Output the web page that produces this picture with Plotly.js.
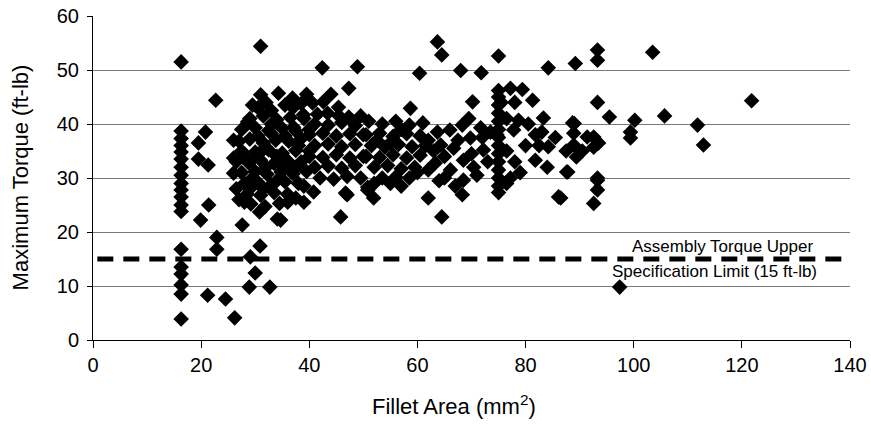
<!DOCTYPE html>
<html>
<head>
<meta charset="utf-8">
<script src="https://cdn.plot.ly/plotly-3.0.1.min.js"></script>
<style>html,body{margin:0;padding:0;background:#fff;}#chart{width:871px;height:442px;}</style>
</head>
<body>
<div id="chart"></div>
<script>
// [fillet area (mm^2), maximum torque (ft-lb)], grouped by region
const column16 = [[16.3,51.5],[16.3,38.7],[16.3,37.3],[16.3,36],[16.3,34.8],[16.3,33.5],[16.3,32],[16.3,30.5],[16.3,29],[16.3,27.8],[16.3,26.5],[16.3,25],[16.3,23.8],[16.3,16.8],[16.3,13.5],[16.3,12.2],[16.3,10.2],[16.3,8.5],[16.3,3.9]];
const near20 = [[19.5,36.5],[20.8,38.5],[19.5,33.5],[21.3,32.4],[19.9,22.2],[21.4,25],[22.7,44.4],[22.9,19],[22.9,16.8],[21.2,8.3],[24.5,7.6],[26.2,4.1]];
const lowPoints = [[27.6,21.3],[30.8,23.7],[34.1,22.4],[29.1,15.4],[30,12.4],[30.9,17.4],[28.9,9.8],[32.7,9.8],[31,54.4],[26,30.9],[26,33.7],[26,37],[28.6,40.4],[31,45.4],[34.3,45.7],[36.9,44.8],[37.5,26.3],[34.7,22.2]];
const cluster30 = [[30.5,43],[33,42.5],[35.5,43.5],[38.5,43.8],[29,41],[31.5,41.5],[34,40.8],[36.5,41.2],[39,41],[27.5,39],[30,39.3],[32.5,38.8],[35,39.2],[37.5,38.7],[40,39],[27,36.8],[29,37.2],[31.5,36.5],[33.8,37],[36.2,36.8],[38.5,37.3],[27.5,35],[30,34.8],[32.5,35.2],[35,34.6],[37.5,35.1],[40,35],[26.5,33],[28.8,32.8],[31,33.3],[33.5,32.7],[36,33.2],[38.5,33],[27.5,31],[30,31.2],[32.2,30.7],[34.8,31.1],[37,30.8],[39.5,31.2],[28,29],[30.5,29.2],[33,28.8],[35.5,29.3],[38,29],[28.5,27],[31,26.8],[33.5,27.3],[36,27],[29.2,25.2],[31.8,24.7],[34.5,25.3],[28,34],[29.5,33.5],[31.5,35.3],[33,38.2],[35.5,37.8],[30.5,37.8],[29,28],[32,32],[34,34],[36.5,32],[28,25.5],[36,25.5],[38,36],[39,28.5],[39,25.5],[26.5,28],[27,26],[29.5,30],[31.5,28],[34,29.5],[35,32.5],[37.5,32],[33,40],[29.5,43.5],[32,44],[37,43]];
const cluster45 = [[40.6,43.9],[42.6,44.1],[45.4,43.1],[38.9,41.7],[43.4,42],[47.3,41.3],[37.1,39.4],[47.3,46.6],[41,40],[43.5,39.8],[46,40.3],[48.5,39.7],[40,38],[42.5,38.3],[45,37.8],[47.5,38.2],[50,38],[41,36],[43.5,36.3],[46,35.8],[48.5,36.2],[40,34],[42.5,33.8],[45,34.3],[47.5,33.7],[50,34],[41,32],[43.5,32.2],[46,31.8],[48.5,32.3],[42,30],[44.5,29.8],[47,30.3],[49.5,30],[40.8,27.4],[46.7,27.2],[50.8,27.8],[51.9,26.3],[47,26.9],[45.8,22.8],[50.8,28.3],[55,29],[39.5,45.5],[44,45.5],[41.5,41.8],[45.5,41.5],[49.5,41.5]];
const cluster55 = [[51,40.5],[53.5,40],[56,40.5],[58.5,39.8],[61,40.2],[50.5,38],[53,38.3],[55.5,37.7],[58,38.2],[60.5,37.8],[51.5,36],[54,35.7],[56.5,36.2],[59,35.8],[61.5,36],[50.5,34],[53,33.8],[55.5,34.3],[58,33.7],[60.5,34.2],[52,32],[54.5,32.3],[57,31.7],[59.5,32],[62,31.5],[53.5,30],[56,30.2],[58.5,30],[58.7,42.9],[62,26.3],[64.5,22.8],[52.5,37],[57,39],[55,36.5],[60,31],[52,29],[57,28.5]];
const cluster67 = [[63.7,38.5],[66,38.9],[68.3,39.8],[71.7,39.3],[69.8,37.4],[64.3,36.1],[66.7,35.5],[72.2,35.2],[63.3,32.8],[66.1,31.5],[68.5,33.3],[70.4,32],[68.5,29.6],[68.3,26.9],[70.2,44.1],[62,37],[65,34],[67.5,37],[70,34.5],[72,37.5],[65,30],[71,30.5],[73,33],[67,28.5],[64,29.5],[63,35],[69.5,41],[73.5,38.5]];
const topPoints = [[42.4,50.4],[48.9,50.6],[60.4,49.4],[63.7,55.2],[64.5,52.8],[68,49.9],[71.8,49.5],[75,52.6],[84.2,50.4],[89.2,51.2],[93.3,53.7],[93.3,51.8],[103.5,53.3]];
const column75 = [[75,46.2],[75,45],[75,43.5],[75,42],[75,40.5],[75,39],[75,37.5],[75,36],[75,34.5],[75,33],[75,31.5],[75,30],[75,28.5],[75,27.3],[75.5,44],[74.7,38]];
const cluster82 = [[77.2,46.6],[79.4,46.4],[81.3,44.4],[83.3,41.1],[78.7,40.7],[77.8,38.9],[81.8,38],[84.2,35.8],[81.8,33.3],[84,32],[77.2,30],[86.1,26.5],[87.8,31.1],[88.7,40.2],[76.5,35],[78,33],[80,36],[79,31],[76.5,41],[80.5,40],[82.5,36],[76.5,29],[78,44],[83,38.5],[85.5,37.5]];
const cluster92 = [[89,40.1],[88.9,38.3],[88.9,36.1],[89.4,33.9],[87.6,31.1],[92.6,37.6],[92.6,35.7],[91.4,37.6],[93.3,30],[93.3,29.6],[93.3,27.8],[92.6,25.3],[86.5,26.3],[93.3,44],[95.5,41.3],[100.2,40.7],[99.4,38.5],[99.4,37.4],[105.7,41.5],[111.8,39.8],[112.9,36.1],[121.8,44.3],[97.4,9.8],[93.5,36.5],[87.5,35],[90.5,35]];

const limitTorque = 15;
const limitLabel1 = "Assembly Torque Upper";
const limitLabel2 = "Specification Limit (15 ft-lb)";
const xTicks = [0,20,40,60,80,100,120,140];
const yTicks = [0,10,20,30,40,50,60];
const xTitle = "Fillet Area (mm<sup>2</sup>)";
const yTitle = "Maximum Torque (ft-lb)";

const allPts = [].concat(column16, near20, lowPoints, cluster30, cluster45, cluster55, cluster67, topPoints, column75, cluster82, cluster92);
const fillet = allPts.map(p => p[0]);
const torque = allPts.map(p => p[1]);

const font = "Liberation Sans, Arial, Helvetica, sans-serif";

const data = [{
  type: 'scatter', mode: 'markers', x: fillet, y: torque,
  marker: {symbol: 'diamond', size: 12, color: '#000', line: {width: 0}},
  showlegend: false, hoverinfo: 'x+y'
}];

const layout = {
  width: 871, height: 442,
  margin: {l: 93, r: 21, t: 16, b: 102},
  paper_bgcolor: '#fff', plot_bgcolor: '#fff',
  font: {family: font, color: '#000', size: 20},
  showlegend: false,
  xaxis: {
    range: [0, 140], tickvals: xTicks, ticktext: xTicks.map(String),
    ticks: 'outside', ticklen: 7, tickcolor: '#000', tickwidth: 1,
    showline: true, linecolor: '#000', linewidth: 1,
    showgrid: false, zeroline: false, tickfont: {size: 20, family: font}
  },
  yaxis: {
    range: [0, 60], tickvals: yTicks, ticktext: yTicks.map(String),
    ticks: 'outside', ticklen: 5, tickcolor: '#000', tickwidth: 1,
    showline: true, linecolor: '#000', linewidth: 1,
    showgrid: true, gridcolor: '#7a7a7a', gridwidth: 1, zeroline: false,
    tickfont: {size: 20, family: font}, ticklabelstandoff: 4
  },
  shapes: [{
    type: 'line', xref: 'x', yref: 'y', x0: 0.8, x1: 140, y0: limitTorque, y1: limitTorque,
    line: {color: '#000', width: 5, dash: '16px,10px'}, layer: 'above'
  }],
  annotations: [
    {xref: 'x', yref: 'y', x: 116.4, y: 17.4, text: limitLabel1, showarrow: false,
     font: {size: 17, family: font, color: '#000'}, xanchor: 'center', yanchor: 'middle'},
    {xref: 'x', yref: 'y', x: 115.0, y: 12.6, text: limitLabel2, showarrow: false,
     font: {size: 17, family: font, color: '#000'}, xanchor: 'center', yanchor: 'middle'},
    {xref: 'x', yref: 'paper', x: 66.7, y: -0.2, text: xTitle, showarrow: false,
     font: {size: 22, family: font, color: '#000'}, xanchor: 'center', yanchor: 'middle'},
    {xref: 'paper', yref: 'paper', x: -0.0964, y: 0.502, text: yTitle, showarrow: false, textangle: -90,
     font: {size: 22, family: font, color: '#000'}, xanchor: 'center', yanchor: 'middle'}
  ]
};

Plotly.newPlot('chart', data, layout, {staticPlot: true, displayModeBar: false});
</script>
</body>
</html>
